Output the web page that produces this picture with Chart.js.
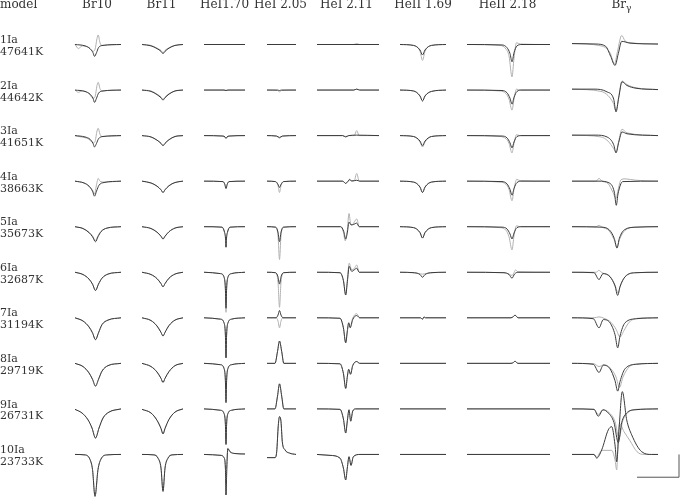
<!DOCTYPE html>
<html>
<head>
<meta charset="utf-8">
<script src="https://cdn.jsdelivr.net/npm/chart.js"></script>
<style>
  body { margin: 0; background: #fff; }
  #wrap { position: relative; width: 700px; height: 500px; overflow: hidden; }
  #wrap span.lbl { position: absolute; white-space: nowrap; font-family: "DejaVu Serif", serif; color: #333; line-height: 1; }
</style>
</head>
<body>
<div id="wrap"><canvas id="myChart" width="700" height="500"></canvas></div>
<script>
// line names (column headers) and models (rows)
const lineNames = ["Br10", "Br11", "HeI1.70", "HeI 2.05", "HeI 2.11", "HeII 1.69", "HeII 2.18", "Brγ"];
const modelNames = ["1Ia", "2Ia", "3Ia", "4Ia", "5Ia", "6Ia", "7Ia", "8Ia", "9Ia", "10Ia"];
const modelTemps = ["47641K", "44642K", "41651K", "38663K", "35673K", "32687K", "31194K", "29719K", "26731K", "23733K"];

// profiles: one list per model, [wavelength offset, normalised flux] pairs
// null in a grey list = same as the black profile
const br10Black = [
  [[-20,1],[-10,0.97],[-5,0.91],[-2,0.82],[-0.5,0.74],[1.5,0.82],[3.5,0.93],[8,0.98],[26,1]],
  [[-20,1],[-10,0.97],[-5,0.91],[-2,0.82],[-0.5,0.73],[1.5,0.82],[3.5,0.93],[8,0.98],[26,1]],
  [[-20,1],[-10,0.97],[-5,0.92],[-2,0.83],[-0.5,0.75],[1.5,0.83],[3.5,0.93],[8,0.98],[26,1]],
  [[-20,1],[-11,0.96],[-6,0.89],[-2.5,0.78],[-0.5,0.67],[1.5,0.78],[4,0.91],[9,0.97],[26,1]],
  [[-20,1],[-12,0.96],[-6,0.87],[-2.5,0.78],[0.5,0.67],[3,0.78],[6,0.89],[12,0.97],[26,1]],
  [[-20,1],[-12,0.95],[-6,0.85],[-2.5,0.74],[0.5,0.60],[3.5,0.74],[7,0.87],[13,0.96],[26,1]],
  [[-20,1],[-12,0.93],[-6,0.80],[-2.5,0.67],[0.5,0.52],[3.5,0.67],[7,0.85],[13,0.95],[26,1]],
  [[-20,1],[-12,0.93],[-6,0.79],[-2.5,0.65],[0.5,0.50],[3.5,0.65],[7,0.83],[13,0.95],[26,1]],
  [[-20,0.99],[-13,0.91],[-7,0.76],[-3,0.58],[0.5,0.36],[4,0.58],[8,0.80],[14,0.93],[26,1]],
  [[-20,1],[-10,0.99],[-5,0.89],[-2.5,0.67],[0,0.08],[3,0.67],[6,0.90],[12,0.99],[26,1]]
];
const br10Grey = [
  [[-20,1],[-16.5,0.91],[-13,0.97],[-6,0.93],[-2,0.85],[0,0.89],[2,1.13],[3.2,1.21],[5,1.04],[7,0.98],[12,0.99],[26,1]],
  [[-20,1],[-16.5,0.95],[-13,0.98],[-6,0.92],[-2,0.82],[0,0.85],[2,1.10],[3.2,1.17],[5,1.03],[7,0.98],[12,0.99],[26,1]],
  [[-20,1],[-16,0.98],[-6,0.92],[-2,0.84],[0,0.87],[2,1.10],[3.2,1.16],[5,1.03],[7,0.98],[26,1]],
  [[-20,1],[-11,0.96],[-6,0.89],[-2.5,0.80],[-0.5,0.72],[1.5,0.92],[3.2,1.06],[5,1.0],[9,0.98],[26,1]],
  [[-20,1],[-12,0.96],[-6,0.88],[-2.5,0.80],[0.5,0.70],[3,0.80],[6,0.90],[12,0.97],[26,1]],
  null, null, null, null, null
];

const br11Black = [
  [[-21,1],[-12,0.97],[-6,0.91],[-2,0.85],[0,0.80],[2,0.85],[6,0.92],[12,0.98],[20,1]],
  [[-21,1],[-12,0.97],[-6,0.90],[-2,0.83],[0,0.78],[2,0.83],[6,0.91],[12,0.98],[20,1]],
  [[-21,1],[-12,0.97],[-6,0.90],[-2,0.83],[0,0.78],[2,0.83],[6,0.91],[12,0.98],[20,1]],
  [[-21,1],[-12,0.96],[-6,0.89],[-2,0.81],[0,0.75],[2,0.81],[6,0.90],[12,0.97],[20,1]],
  [[-21,1],[-12,0.96],[-6,0.88],[-2,0.79],[0,0.73],[2,0.79],[6,0.89],[12,0.97],[20,1]],
  [[-21,1],[-12,0.95],[-6,0.86],[-2,0.75],[0,0.68],[2,0.75],[6,0.87],[12,0.96],[20,1]],
  [[-21,1],[-12,0.94],[-6,0.82],[-2,0.68],[0,0.60],[2,0.68],[6,0.83],[12,0.95],[20,1]],
  [[-21,1],[-12,0.93],[-6,0.81],[-2,0.67],[0,0.58],[2,0.67],[6,0.82],[12,0.95],[20,1]],
  [[-21,0.99],[-12,0.91],[-6,0.75],[-2,0.57],[0,0.45],[2,0.57],[6,0.77],[12,0.93],[20,1]],
  [[-21,1],[-9,0.99],[-5,0.92],[-2,0.70],[0,0.19],[2,0.70],[5,0.92],[9,0.99],[20,1]]
];
const br11Grey = [
  [[-21,1],[-12,0.98],[-6,0.92],[-2,0.87],[0,0.82],[2,0.87],[6,0.93],[12,0.98],[20,1]],
  [[-21,1],[-12,0.98],[-6,0.91],[-2,0.85],[0,0.80],[2,0.85],[6,0.92],[12,0.98],[20,1]],
  null, null, null, null, null, null, null, null
];

const hei170Black = [
  [[-22,1],[19,1]],
  [[-22,1],[-2,1],[0,0.99],[2,1],[19,1]],
  [[-22,1],[-3,0.99],[-1,0.97],[0,0.94],[1,0.97],[3,0.99],[19,1]],
  [[-22,1],[-3,0.99],[-1.2,0.93],[0,0.84],[1.2,0.93],[3,0.99],[19,1]],
  [[-22,1],[-4,0.99],[-1.5,0.88],[-0.5,0.75],[0,0.55],[0.5,0.75],[1.5,0.88],[4,0.99],[19,1]],
  [[-22,1],[-5.5,0.97],[-2,0.90],[-0.6,0.64],[0,0.21],[0.6,0.64],[2,0.90],[5.5,0.97],[19,1]],
  [[-22,1],[-5.5,0.97],[-2,0.89],[-0.6,0.62],[0,0.12],[0.6,0.62],[2,0.89],[5.5,0.97],[19,1]],
  [[-22,1],[-5.5,0.97],[-2,0.89],[-0.6,0.62],[0,0.14],[0.6,0.62],[2,0.89],[5.5,0.97],[19,1]],
  [[-22,1],[-5.5,0.97],[-2,0.90],[-0.6,0.66],[0,0.22],[0.6,0.66],[2,0.90],[5.5,0.97],[19,1]],
  [[-22,1],[-5,0.98],[-2,0.93],[-0.6,0.70],[0,0.11],[0.8,0.70],[1.8,1.13],[4,1.06],[9,1.02],[19,1.01]]
];
const hei170Grey = [
  null, null, null, null, null,
  [[-22,1],[-5.5,0.97],[-2,0.88],[-0.6,0.60],[0,0.12],[0.6,0.60],[2,0.88],[5.5,0.97],[19,1]],
  null, null, null, null
];

const hei205Black = [
  [[-12.5,1],[16.5,1]],
  [[-12.5,1],[-2,1],[0,0.99],[2,1],[16.5,1]],
  [[-12.5,1],[-3,0.99],[0,0.96],[3,0.99],[16.5,1]],
  [[-12.5,1],[-4,0.99],[-1.5,0.93],[0,0.86],[1.5,0.93],[4,0.99],[16.5,1]],
  [[-12.5,1],[-4,0.99],[-1.5,0.88],[0,0.67],[1.5,0.88],[4,0.99],[16.5,1]],
  [[-12.5,1],[-4,0.99],[-1.5,0.90],[0,0.74],[1.5,0.90],[4,0.99],[16.5,1]],
  [[-12.5,1],[-3.5,1],[-1.5,1.06],[0,1.16],[1.5,1.06],[3.5,1],[16.5,1]],
  [[-12.5,1],[-4.5,1],[-2,1.26],[0,1.49],[2.2,1.26],[4.3,1],[16.5,1]],
  [[-12.5,1],[-4.5,1],[-2,1.28],[0,1.55],[2.2,1.28],[4.3,1],[16.5,1]],
  [[-12.5,0.93],[-4.5,0.93],[-2.8,1.06],[-1.2,1.64],[0,1.83],[1.5,1.72],[2.8,1.28],[5.5,1.10],[10,1.03],[16.5,1.0]]
];
const hei205Grey = [
  null,
  [[-12.5,1],[-2,0.99],[0,0.96],[2,0.99],[16.5,1]],
  [[-12.5,1],[-3,0.99],[0,0.94],[3,0.99],[16.5,1]],
  [[-12.5,1],[-4,0.99],[-1.5,0.90],[0,0.75],[1.5,0.90],[4,0.99],[16.5,1]],
  [[-12.5,1],[-4,0.99],[-1.5,0.80],[0,0.28],[1.5,0.80],[4,0.99],[16.5,1]],
  [[-12.5,1],[-4,0.99],[-1.5,0.78],[0,0.23],[1.5,0.78],[4,0.99],[16.5,1]],
  [[-12.5,1],[-3.5,1],[-1.5,0.93],[0,0.78],[1.5,0.93],[3.5,1],[16.5,1]],
  null, null, null
];

const hei211Black = [
  [[-28.7,1],[33.3,1]],
  [[-28.7,1],[8,1],[11,1.02],[14,1],[33.3,1]],
  [[-28.7,1],[-3,1],[0,0.97],[3,1],[11,1.01],[33.3,1]],
  [[-28.7,1],[-3,1],[0,0.95],[2,0.99],[4,1.04],[6,1],[11,1.02],[14,1],[33.3,1]],
  [[-28.7,1],[-5,1],[-2,0.90],[0,0.73],[1.7,0.88],[3.3,1.10],[5.3,1.04],[8,1.05],[11,1.08],[13.5,1],[33.3,1]],
  [[-28.7,1],[-5.7,0.99],[-2.3,0.82],[0,0.50],[1.7,0.80],[3.5,1.13],[6,1.02],[9,1.06],[11,1.09],[13.5,1],[33.3,1]],
  [[-28.7,1],[-5.7,0.99],[-2.3,0.78],[0,0.45],[1.7,0.72],[3,0.89],[4.5,0.78],[7,0.96],[11,1.05],[14,1],[33.3,1]],
  [[-28.7,1],[-5.7,0.99],[-2.3,0.78],[0,0.45],[1.7,0.72],[3,0.87],[4.8,0.76],[7,0.95],[11,1.04],[14,1],[33.3,1]],
  [[-28.7,1],[-5.7,0.99],[-2.3,0.78],[0,0.47],[1.7,0.75],[3.3,0.98],[5,0.73],[7,0.95],[10,1],[33.3,1]],
  [[-28.7,1],[-15.7,0.98],[-5.7,0.92],[-2.3,0.70],[0,0.44],[1.6,0.70],[3.3,0.95],[5.3,0.76],[7.6,0.95],[14.3,1],[33.3,1]]
];
const hei211Grey = [
  [[-28.7,1],[8,1],[11,1.02],[14,1],[33.3,1]],
  null,
  [[-28.7,1],[-3,1],[0,0.98],[3,1],[8.5,1],[11,1.11],[13.5,1],[33.3,1]],
  [[-28.7,1],[-3,1],[0,0.95],[2,0.99],[4,1.02],[8.5,1.01],[11,1.17],[13.5,1],[33.3,1]],
  [[-28.7,1],[-5,1],[-2.3,0.88],[-0.5,0.69],[1.5,0.90],[3.3,1.29],[5,1.06],[6.5,1.04],[8.5,1.10],[11,1.17],[13.5,1],[33.3,1]],
  [[-28.7,1],[-5.7,0.99],[-2.3,0.82],[0,0.50],[1.7,0.85],[3.5,1.20],[6,1.05],[8.5,1.08],[11,1.16],[13.5,1],[33.3,1]],
  [[-28.7,1],[-5.7,0.99],[-2.3,0.78],[0,0.45],[1.7,0.72],[3,0.89],[4.5,0.80],[7,0.99],[11,1.09],[14,1],[33.3,1]],
  null, null, null
];

const heii169Black = [
  [[-22.5,1],[-9,0.98],[-2.5,0.88],[0,0.77],[2.5,0.88],[9,0.98],[23.5,1]],
  [[-22.5,1],[-9,0.98],[-2.5,0.87],[0,0.76],[2.5,0.87],[9,0.97],[23.5,1]],
  [[-22.5,1],[-9,0.98],[-2.5,0.88],[0,0.78],[2.5,0.88],[9,0.98],[23.5,1]],
  [[-22.5,1],[-9,0.98],[-2.5,0.87],[0,0.75],[2.5,0.87],[9,0.98],[23.5,1]],
  [[-22.5,1],[-9,0.98],[-2.5,0.87],[0,0.75],[2.5,0.87],[9,0.98],[23.5,1]],
  [[-22.5,1],[-8,0.99],[-2.5,0.95],[0,0.89],[2.5,0.95],[8,0.99],[23.5,1]],
  [[-22.5,1],[-2,1],[0,0.97],[1.5,1.02],[3,1],[23.5,1]],
  [[-22.5,1],[23.5,1]],
  [[-22.5,1],[23.5,1]],
  [[-22.5,1],[23.5,1]]
];
const heii169Grey = [
  [[-22.5,1],[-9,0.98],[-2.5,0.85],[0,0.65],[2.5,0.85],[9,0.98],[23.5,1]],
  null,
  [[-22.5,1],[-9,0.98],[-2.5,0.86],[0,0.75],[2.5,0.86],[9,0.98],[23.5,1]],
  null, null,
  [[-22.5,1],[-10,0.99],[-4,0.97],[0,0.96],[4,0.97],[10,0.99],[23.5,1]],
  null, null, null, null
];

const heii218Black = [
  [[-45,1],[-10,0.99],[-5,0.93],[-2,0.80],[0,0.62],[2,0.82],[5,0.97],[10,1],[38,1]],
  [[-45,1],[-10,0.99],[-5,0.94],[-2,0.82],[0,0.69],[2,0.84],[5,0.97],[10,1],[38,1]],
  [[-45,1],[-10,0.99],[-5,0.95],[-2,0.84],[0,0.73],[2,0.86],[5,0.98],[10,1],[38,1]],
  [[-45,1],[-10,0.99],[-5,0.94],[-2,0.82],[0,0.69],[2,0.84],[5,0.97],[10,1],[38,1]],
  [[-45,1],[-10,0.99],[-5,0.95],[-2,0.84],[0,0.73],[2,0.86],[5,0.98],[10,1],[38,1]],
  [[-45,1],[-8,0.99],[-3,0.95],[0,0.87],[2.5,0.96],[6,1],[38,1]],
  [[-45,1],[-1,1],[1.5,1.03],[3,1.06],[4.5,1.03],[6,1],[38,1]],
  [[-45,1],[-1,1],[1.5,1.02],[3,1.05],[4.5,1.02],[6,1],[38,1]],
  [[-45,1],[38,1]],
  [[-45,1],[38,1]]
];
const heii218Grey = [
  [[-45,1],[-12,0.98],[-6,0.90],[-3,0.75],[0,0.29],[2,0.70],[4.5,1.04],[8,1.01],[38,1]],
  [[-45,1],[-12,0.98],[-6,0.92],[-3,0.80],[0,0.56],[2,0.80],[4.5,1.02],[8,1],[38,1]],
  [[-45,1],[-12,0.98],[-6,0.93],[-3,0.83],[0,0.62],[2,0.83],[4.5,1.02],[8,1],[38,1]],
  [[-45,1],[-12,0.98],[-6,0.93],[-3,0.82],[0,0.57],[2,0.82],[4.7,1.04],[8,1.01],[38,1]],
  [[-45,1],[-12,0.98],[-6,0.92],[-3,0.78],[0,0.49],[2,0.80],[4.5,1.02],[8,1],[38,1]],
  [[-45,1],[-8,0.99],[-3,0.96],[0,0.93],[1.5,0.97],[3.5,1.05],[6,1.01],[38,1]],
  null, null, null, null
];

const brgBlack = [
  [[-44,1.02],[-20,1.01],[-10.3,0.96],[-5.3,0.74],[-1,0.54],[2.3,0.80],[5.7,1.07],[14,1.03],[42,1.01]],
  [[-44,1.02],[-22,1.02],[-9,0.96],[-2.3,0.80],[0,0.52],[2.7,0.83],[6,1.18],[11,1.10],[20,1.04],[42,1.01]],
  [[-44,1.01],[-20,1.01],[-9,0.97],[-2.3,0.80],[0,0.62],[2.7,0.85],[6,1.08],[11,1.04],[42,1]],
  [[-44,1],[-17,1],[-6.7,0.96],[-1.7,0.76],[0.3,0.47],[2,0.72],[6.7,0.99],[42,1]],
  [[-44,1],[-15,0.99],[-6.7,0.93],[-1.7,0.74],[1,0.53],[3.3,0.74],[8.3,0.93],[20,0.99],[42,1]],
  [[-44,1],[-22,0.99],[-17,0.84],[-13,0.97],[-6,0.90],[-1,0.70],[1.7,0.49],[4,0.68],[9,0.90],[20,0.99],[42,1]],
  [[-44,1],[-22.7,0.98],[-17,0.78],[-12.7,0.96],[-6,0.89],[-1,0.63],[1.7,0.34],[4,0.60],[9,0.89],[20.7,0.98],[42,1]],
  [[-44,1],[-22.7,0.98],[-17,0.80],[-12.7,0.96],[-6,0.88],[-1,0.62],[1.7,0.39],[4,0.60],[9,0.88],[20.7,0.98],[42,1]],
  [[-44,1],[-22,0.99],[-17.7,0.84],[-13,0.98],[-7.7,0.91],[-2,0.70],[2.3,0.26],[5.7,0.70],[10.7,0.91],[19,0.98],[42,1]],
  [[-44,1],[-22,1],[-19.3,0.92],[-14.3,1.10],[-7.7,1.54],[-4.3,1.61],[-1,1.21],[0.7,0.84],[3,1.54],[6.3,2.38],[10.7,1.76],[15.7,1.43],[25.7,1.06],[35.7,1],[42,1]]
];
const brgGrey = [
  [[-44,1.02],[-15,0.97],[-6,0.82],[-1.5,0.57],[1.5,0.85],[5.7,1.20],[9,1.08],[14,1.04],[42,1.01]],
  [[-44,1.02],[-15,0.97],[-8,0.88],[-2.5,0.70],[0,0.54],[2.7,0.85],[6,1.20],[11,1.12],[20,1.05],[42,1.01]],
  [[-44,1.01],[-15,0.97],[-8,0.88],[-2.5,0.72],[0,0.64],[2.7,0.88],[6,1.14],[11,1.06],[42,1]],
  [[-44,1],[-20,1],[-17,1.06],[-14,1],[-8,0.95],[-3,0.75],[0,0.62],[2,0.80],[5,1.03],[9,1.05],[20,1.02],[42,1]],
  [[-44,1],[-20,1],[-17,1.03],[-14,0.99],[-7,0.91],[-2,0.72],[1,0.55],[3.5,0.72],[9,0.92],[20,0.99],[42,1]],
  [[-44,1],[-20,1],[-17,1.04],[-14,0.99],[-6,0.91],[-1,0.72],[2,0.55],[4.5,0.72],[10,0.92],[20,0.99],[42,1]],
  [[-44,1],[-22,1],[-17,1.02],[-12,0.99],[-5,0.90],[0,0.75],[4,0.58],[8,0.72],[13,0.90],[22,0.99],[42,1]],
  [[-44,1],[-22,0.99],[-17,0.93],[-12,0.97],[-5,0.88],[0,0.70],[3.5,0.47],[7,0.70],[13,0.92],[22,0.99],[42,1]],
  [[-44,1],[-22,0.99],[-17.7,0.88],[-13,0.98],[-7,0.92],[-1,0.72],[3,0.35],[6.5,0.72],[12,0.92],[20,0.99],[42,1]],
  [[-44,1],[-22,1],[-19.3,0.94],[-14.3,1.09],[-4.3,1.09],[-1,0.88],[0.7,0.66],[2,1.30],[3.5,1.68],[8,1.50],[14,1.30],[21,1.06],[28,1],[42,1]]
];

// layout: line centre of each column on the page axis, header centres, stacking
const lineCenters = [95, 163, 226, 279.5, 345.7, 422.5, 512, 616];
const headerCenters = [97, 161.5, 224.5, 280.5, 346.5, 423, 507.5, 621.5];
const rowStep = 1;          // flux units between stacked models
const scaleBar = { x: 679, width: 42, height: 0.5 };

const blackCols = [br10Black, br11Black, hei170Black, hei205Black, hei211Black, heii169Black, heii218Black, brgBlack];
const greyCols = [br10Grey, br11Grey, hei170Grey, hei205Grey, hei211Grey, heii169Grey, heii218Grey, brgGrey];

let datasets = [];
blackCols.forEach(function (col, c) {
  col.forEach(function (prof, r) {
    let toPoints = (p) => p.map(([dx, f]) => ({ x: lineCenters[c] + dx, y: f - r * rowStep }));
    let g = greyCols[c][r] || prof;
    datasets.push({ data: toPoints(prof), borderColor: "#3a3a3a", order: 0 });
    datasets.push({ data: toPoints(g), borderColor: "#b0b0b0", order: 1 });
  });
});

// scale bar below the last model
let barTop = 1 - (modelNames.length - 1) * rowStep;
datasets.push({
  data: [
    { x: scaleBar.x - scaleBar.width, y: barTop - scaleBar.height },
    { x: scaleBar.x, y: barTop - scaleBar.height },
    { x: scaleBar.x, y: barTop }
  ],
  borderColor: "#555",
  cubicInterpolationMode: "default",
  tension: 0,
  order: 0
});

let ctx = document.getElementById("myChart").getContext("2d");
let chart = new Chart(ctx, {
  type: "scatter",
  data: { datasets: datasets },
  options: {
    responsive: false,
    animation: false,
    devicePixelRatio: 1,
    events: [],
    layout: { padding: 0 },
    datasets: {
      scatter: {
        showLine: true,
        pointRadius: 0,
        borderWidth: 1,
        fill: false,
        cubicInterpolationMode: "monotone",
        clip: false
      }
    },
    plugins: { legend: { display: false }, tooltip: { enabled: false } },
    scales: {
      x: { type: "linear", min: 0, max: 700, display: false },
      y: { type: "linear", min: -9.0, max: 1.977, display: false }
    }
  }
});

// text labels placed from the chart scales
let wrap = document.getElementById("wrap");
function addLabel(html, left, baseline, size, center) {
  let s = document.createElement("span");
  s.className = "lbl";
  s.innerHTML = html;
  s.style.fontSize = size + "px";
  s.style.top = (baseline - 0.846 * size) + "px";
  s.style.left = left + "px";
  if (center) s.style.transform = "translateX(-50%)";
  wrap.appendChild(s);
}
let xs = chart.scales.x, ys = chart.scales.y;
addLabel("model", 0, 8, 12, false);
lineNames.forEach(function (name, c) {
  let html = name === "Brγ" ? 'Br<span style="font-size:9px;position:relative;top:3px">γ</span>' : name;
  addLabel(html, xs.getPixelForValue(headerCenters[c]), 8, 12, true);
});
modelNames.forEach(function (m, r) {
  let cont = ys.getPixelForValue(1 - r * rowStep);
  addLabel(m, 0, cont - 1, 11, false);
  addLabel(modelTemps[r], 0, cont + 10.8, 11, false);
});
</script>
</body>
</html>
